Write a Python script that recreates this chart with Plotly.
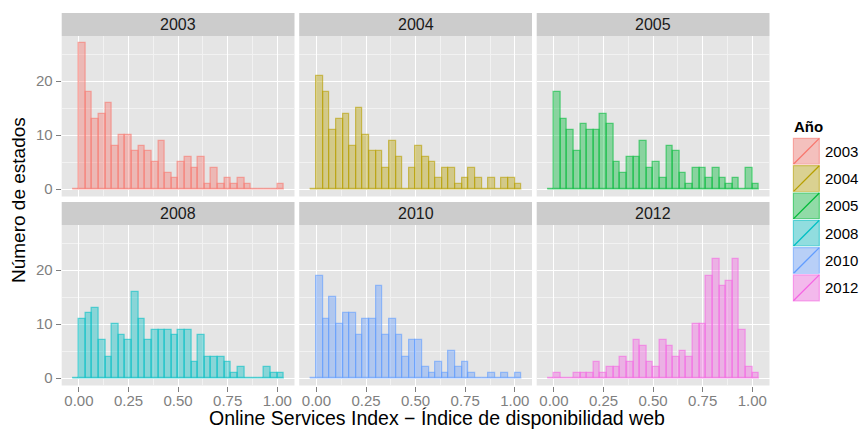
import plotly.graph_objects as go

W, H = 859, 429
FONT = "Liberation Sans, Arial, Helvetica, sans-serif"

# Histogram data: counts per bin of width 1/30, first bin starts at -1/30 (empty)
years = ["2003", "2004", "2005", "2008", "2010", "2012"]
colors = ["#F8766D", "#B79F00", "#00BA38", "#00BFC4", "#619CFF", "#F564E3"]
bin_width = 1 / 30
bin_start = -1 / 30

counts_2003 = [0, 27, 18, 13, 14, 16, 8, 10, 10, 7, 8, 7, 5, 9, 3, 2, 5, 6, 4, 6, 1,
               4, 1, 2, 1, 2, 1, 0, 0, 0, 0, 1]
counts_2004 = [0, 21, 18, 11, 13, 14, 8, 15, 10, 7, 7, 4, 9, 6, 0, 4, 8, 6, 5, 2, 4,
               4, 1, 2, 4, 2, 0, 2, 0, 2, 2, 1]
counts_2005 = [0, 18, 13, 11, 7, 12, 11, 11, 14, 12, 5, 3, 6, 6, 9, 4, 5, 2, 8, 7, 3,
               1, 4, 4, 2, 4, 2, 1, 2, 0, 4, 1]
counts_2008 = [0, 11, 12, 13, 7, 4, 10, 8, 7, 16, 11, 7, 9, 9, 9, 8, 9, 9, 3, 8, 4,
               4, 4, 3, 1, 2, 0, 0, 0, 2, 1, 1]
counts_2010 = [0, 19, 11, 15, 10, 12, 12, 8, 11, 11, 17, 8, 11, 8, 4, 7, 7, 2, 1, 3, 1,
               5, 2, 3, 1, 0, 0, 1, 0, 1, 0, 1]
counts_2012 = [0, 1, 0, 0, 1, 1, 1, 3, 1, 2, 2, 4, 3, 7, 6, 3, 2, 7, 6, 4, 5,
               4, 10, 10, 19, 22, 17, 18, 22, 9, 2, 1]
all_counts = [counts_2003, counts_2004, counts_2005, counts_2008, counts_2010, counts_2012]

x_ticks = [0, 0.25, 0.5, 0.75, 1.0]
y_ticks = [0, 10, 20]

x_title = "Online Services Index \u2212 \u00cdndice de disponibilidad web"
y_title = "N\u00famero de estados"
legend_title = "A\u00f1o"


def rgba(hex_color, a):
    h = hex_color.lstrip("#")
    r, g, b = int(h[0:2], 16), int(h[2:4], 16), int(h[4:6], 16)
    return f"rgba({r},{g},{b},{a})"


# Panel geometry (pixels)
col_left = [61.7, 299.2, 536.7]
panel_w = 232.8
row_strip_top = [13.0, 202.0]
strip_h = 23.0
panel_h = 160.5

n_bins = len(counts_2003)
centers = [bin_start + (i + 0.5) * bin_width for i in range(n_bins)]
x_lo = bin_start
x_hi = bin_start + n_bins * bin_width
x_pad = 0.05 * (x_hi - x_lo)
y_max = max(max(c) for c in all_counts)
y_pad = 0.05 * y_max

fig = go.Figure()
shapes = []
annotations = []

for k, (yr, col, counts) in enumerate(zip(years, colors, all_counts)):
    r, c = divmod(k, 3)
    ax = "" if k == 0 else str(k + 1)
    left = col_left[c]
    top = row_strip_top[r] + strip_h
    bottom = top + panel_h
    xdom = [left / W, (left + panel_w) / W]
    ydom = [1 - bottom / H, 1 - top / H]

    # baseline drawn by the empty bins
    fig.add_trace(go.Scatter(
        x=[x_lo, x_hi], y=[0, 0], mode="lines",
        line=dict(color=rgba(col, 0.4), width=1.2),
        xaxis="x" + ax, yaxis="y" + ax, showlegend=False, hoverinfo="skip"))
    fig.add_trace(go.Bar(
        x=centers, y=counts, width=bin_width,
        marker=dict(color=rgba(col, 0.4), line=dict(color=rgba(col, 0.6), width=1.2)),
        xaxis="x" + ax, yaxis="y" + ax, showlegend=False, name=yr))

    common = dict(showline=False, zeroline=False, gridcolor="#FFFFFF", gridwidth=1.2,
                  ticks="outside", tickwidth=1, tickcolor="#7F7F7F",
                  tickfont=dict(family=FONT, size=15, color="#7F7F7F"))
    fig.layout["xaxis" + ax] = dict(
        domain=xdom, range=[x_lo - x_pad, x_hi + x_pad], anchor="y" + ax,
        tickvals=x_ticks, ticktext=[f"{v:.2f}" for v in x_ticks],
        showticklabels=(r == 1), ticklen=(5 if r == 1 else 0),
        ticklabelstandoff=-4,
        minor=dict(dtick=0.125, tick0=0, showgrid=True, gridcolor="#F2F2F2", gridwidth=0.8, ticks=""),
        **common)
    fig.layout["yaxis" + ax] = dict(
        domain=ydom, range=[-y_pad, y_max + y_pad], anchor="x" + ax,
        tickvals=y_ticks, ticktext=[str(v) for v in y_ticks],
        showticklabels=(c == 0), ticklen=(5 if c == 0 else 0),
        minor=dict(dtick=5, tick0=0, showgrid=True, gridcolor="#F2F2F2", gridwidth=0.8, ticks=""),
        **common)

    # facet strip
    st = row_strip_top[r]
    shapes.append(dict(type="rect", xref="paper", yref="paper",
                       x0=left / W, x1=(left + panel_w) / W,
                       y0=1 - (st + strip_h) / H, y1=1 - st / H,
                       fillcolor="#CCCCCC", line=dict(width=0), layer="below"))
    annotations.append(dict(text=yr, xref="paper", yref="paper",
                            x=(left + panel_w / 2) / W, y=1 - (st + strip_h / 2) / H,
                            xanchor="center", yanchor="middle", showarrow=False,
                            font=dict(family=FONT, size=16, color="#1A1A1A")))

# axis titles
annotations.append(dict(text=x_title, xref="paper", yref="paper",
                        x=437 / W, y=0, xanchor="center", yanchor="bottom",
                        borderpad=0, yshift=-1, showarrow=False,
                        font=dict(family=FONT, size=19.5, color="#000000")))
annotations.append(dict(text=y_title, xref="paper", yref="paper",
                        x=18 / W, y=1 - 200 / H, xanchor="center", yanchor="middle",
                        textangle=-90, showarrow=False,
                        font=dict(family=FONT, size=19, color="#000000")))

# legend
key_x0, key_x1 = 792.7, 820.0
key_top, key_h = 137.7, 27.3
annotations.append(dict(text="<b>" + legend_title + "</b>", xref="paper", yref="paper",
                        x=792 / W, y=1 - 126.5 / H, xanchor="left", yanchor="middle",
                        showarrow=False, font=dict(family=FONT, size=15, color="#000000")))
for i, (yr, col) in enumerate(zip(years, colors)):
    y0 = key_top + i * key_h
    y1 = y0 + key_h
    shapes.append(dict(type="rect", xref="paper", yref="paper",
                       x0=key_x0 / W, x1=key_x1 / W, y0=1 - y1 / H, y1=1 - y0 / H,
                       fillcolor="#F2F2F2", line=dict(color="#FFFFFF", width=1)))
    shapes.append(dict(type="rect", xref="paper", yref="paper",
                       x0=(key_x0 + 0.7) / W, x1=(key_x1 - 0.7) / W,
                       y0=1 - (y1 - 0.7) / H, y1=1 - (y0 + 0.7) / H,
                       fillcolor=rgba(col, 0.4), line=dict(color=rgba(col, 0.55), width=1.2)))
    shapes.append(dict(type="line", xref="paper", yref="paper",
                       x0=(key_x0 + 0.7) / W, x1=(key_x1 - 0.7) / W,
                       y0=1 - (y1 - 0.7) / H, y1=1 - (y0 + 0.7) / H,
                       line=dict(color=col, width=1.3)))
    annotations.append(dict(text=yr, xref="paper", yref="paper",
                            x=822.5 / W, y=1 - (y0 + key_h / 2) / H,
                            xanchor="left", yanchor="middle", showarrow=False,
                            font=dict(family=FONT, size=15, color="#000000")))

fig.update_layout(
    width=W, height=H, margin=dict(l=0, r=0, t=0, b=0),
    paper_bgcolor="#FFFFFF", plot_bgcolor="#E5E5E5",
    bargap=0, barmode="overlay", showlegend=False,
    shapes=shapes, annotations=annotations,
    font=dict(family=FONT),
)

fig.write_html("out.html")
